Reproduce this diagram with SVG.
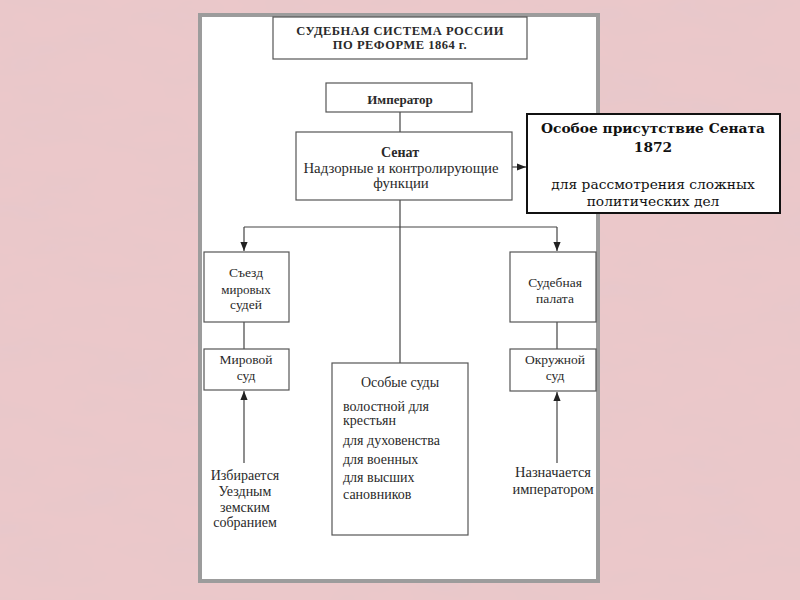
<svg xmlns="http://www.w3.org/2000/svg" width="800" height="600" viewBox="0 0 800 600">
<defs>
<marker id="ah" viewBox="0 0 10 10" refX="10" refY="5" markerWidth="9" markerHeight="9" markerUnits="userSpaceOnUse" orient="auto">
<path d="M0,1 L10,5 L0,9 Z" fill="#222"/>
</marker>
<filter id="tex" x="0" y="0" width="100%" height="100%">
<feTurbulence type="fractalNoise" baseFrequency="0.012 0.035" numOctaves="3" seed="7"/>
<feColorMatrix type="matrix" values="0 0 0 0 0.78  0 0 0 0 0.58  0 0 0 0 0.6  1.1 0 0 0 -0.42"/>
</filter>
<style>
.box{fill:#fff;stroke:#555;stroke-width:1.2}
.t{font-family:"Liberation Serif","Times New Roman",serif;fill:#2a2a2a;text-anchor:middle}
.tl{font-family:"Liberation Serif","Times New Roman",serif;fill:#2a2a2a;font-size:14px}
.b{font-weight:bold}
.ln{stroke:#444;stroke-width:1.2;fill:none}
.sp{font-family:"DejaVu Serif",serif;fill:#111;text-anchor:middle;font-size:13.8px}
</style>
</defs>
<rect x="0" y="0" width="800" height="600" fill="#ebc8ca"/>
<rect x="0" y="0" width="800" height="600" filter="url(#tex)"/>
<rect x="200" y="15" width="398" height="566" fill="#fff" stroke="#9c9c9c" stroke-width="4"/>

<g id="connectors">
<line class="ln" x1="400" y1="112" x2="400" y2="132"/>
<line class="ln" x1="400" y1="200" x2="400" y2="363"/>
<line class="ln" x1="244" y1="227" x2="557" y2="227"/>
<line class="ln" x1="244" y1="227" x2="244" y2="251" marker-end="url(#ah)"/>
<line class="ln" x1="557" y1="227" x2="557" y2="251" marker-end="url(#ah)"/>
<line class="ln" x1="244" y1="322" x2="244" y2="349"/>
<line class="ln" x1="557" y1="322" x2="557" y2="349"/>
<line class="ln" x1="512" y1="167" x2="526" y2="167" marker-end="url(#ah)" stroke="#111" stroke-width="1.8"/>
<line class="ln" x1="244" y1="463" x2="244" y2="391" marker-end="url(#ah)"/>
<line class="ln" x1="557" y1="463" x2="557" y2="392" marker-end="url(#ah)"/>
</g>

<g id="title">
<rect class="box" x="273" y="17" width="254" height="42"/>
<text class="t b" x="400" y="34.5" font-size="12.5" letter-spacing="0.5">СУДЕБНАЯ СИСТЕМА РОССИИ</text>
<text class="t b" x="400" y="48.5" font-size="12.5" letter-spacing="0.5">ПО РЕФОРМЕ 1864 г.</text>
</g>

<g id="emperor">
<rect class="box" x="326" y="83" width="146" height="29"/>
<text class="t b" x="400" y="104" font-size="13">Император</text>
</g>

<g id="senate">
<rect class="box" x="296" y="132" width="216" height="68"/>
<text class="t b" x="400" y="157" font-size="14">Сенат</text>
<text class="t" x="401" y="173" font-size="14.8">Надзорные и контролирующие</text>
<text class="t" x="401" y="188" font-size="14.8">функции</text>
</g>

<g id="special-presence">
<rect x="527" y="114" width="253" height="99" fill="#fff" stroke="#111" stroke-width="2"/>
<text class="sp b" x="653" y="133">Особое присутствие Сената</text>
<text class="sp b" x="653" y="152">1872</text>
<text class="sp" x="653" y="189">для рассмотрения сложных</text>
<text class="sp" x="653" y="206">политических дел</text>
</g>

<g id="congress">
<rect class="box" x="204" y="252" width="85" height="70"/>
<text class="t" x="246" y="277" font-size="13.5">Съезд</text>
<text class="t" x="246" y="294" font-size="13">мировых</text>
<text class="t" x="246" y="309" font-size="13.5">судей</text>
</g>

<g id="justice-court">
<rect class="box" x="204" y="349" width="85" height="41"/>
<text class="t" x="246" y="364" font-size="13.5">Мировой</text>
<text class="t" x="246" y="380" font-size="13.5">суд</text>
</g>

<g id="judicial-chamber">
<rect class="box" x="510" y="252" width="86" height="70"/>
<text class="t" x="555" y="287" font-size="13.5">Судебная</text>
<text class="t" x="555" y="303" font-size="13.5">палата</text>
</g>

<g id="district-court">
<rect class="box" x="510" y="349" width="86" height="42"/>
<text class="t" x="555" y="364" font-size="13.5">Окружной</text>
<text class="t" x="555" y="380" font-size="13.5">суд</text>
</g>

<g id="special-courts">
<rect class="box" x="332" y="363" width="136" height="172"/>
<text class="t" x="400" y="387" font-size="14">Особые суды</text>
<text class="tl" x="343" y="411">волостной для</text>
<text class="tl" x="343" y="425">крестьян</text>
<text class="tl" x="343" y="445">для духовенства</text>
<text class="tl" x="343" y="464">для военных</text>
<text class="tl" x="343" y="482">для высших</text>
<text class="tl" x="343" y="499">сановников</text>
</g>

<g id="elected-note">
<text class="t" x="245" y="480" font-size="14">Избирается</text>
<text class="t" x="245" y="496" font-size="14">Уездным</text>
<text class="t" x="245" y="512" font-size="14">земским</text>
<text class="t" x="245" y="527" font-size="14">собранием</text>
</g>

<g id="appointed-note">
<text class="t" x="553" y="477" font-size="14.5">Назначается</text>
<text class="t" x="553" y="494" font-size="14.5">императором</text>
</g>
</svg>
